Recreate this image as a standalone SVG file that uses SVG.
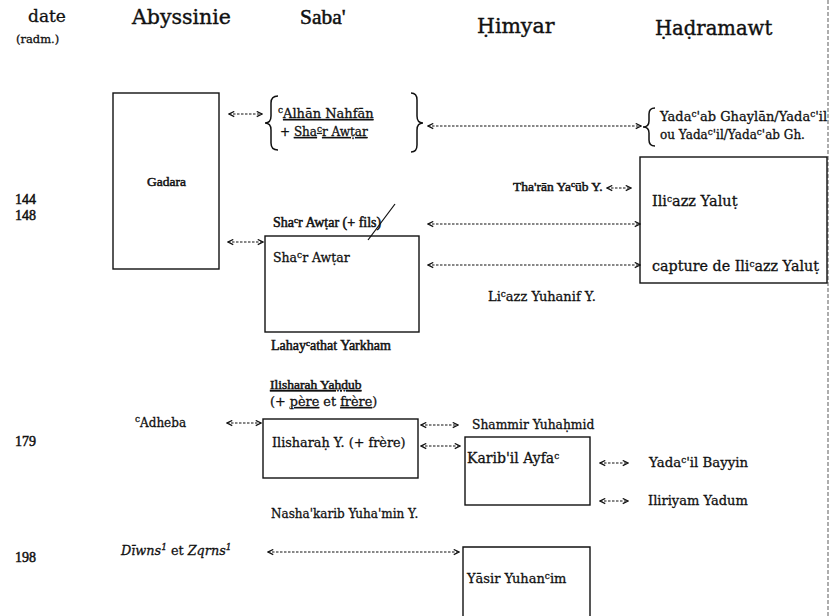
<svg xmlns="http://www.w3.org/2000/svg" width="831" height="616" viewBox="0 0 831 616">
<defs>
<marker id="chev" viewBox="0 0 8 8" refX="7" refY="4" markerWidth="7" markerHeight="7" markerUnits="userSpaceOnUse" orient="auto-start-reverse">
<path d="M1,1 L7,4 L1,7" fill="none" stroke="#111" stroke-width="1.3"/>
</marker>
<style>
text{font-family:"DejaVu Serif","Liberation Serif",serif;fill:#111;stroke:#111;stroke-width:0.3;font-size:12.5px}
.hd{font-size:20.5px;stroke-width:0.4}
.tm{font-family:"Liberation Serif","DejaVu Serif",serif;stroke-width:0.5}
.sup{font-size:9px}
.box{fill:none;stroke:#111;stroke-width:1.4}
.brace{fill:none;stroke:#111;stroke-width:1.5}
.con{fill:none;stroke:#111;stroke-width:1.1;stroke-dasharray:2.5 1.5;marker-start:url(#chev);marker-end:url(#chev)}
.ul{text-decoration:underline}
</style>
</defs>
<rect width="831" height="616" fill="#fff"/>
<line x1="828" y1="0" x2="828" y2="616" stroke="#777" stroke-width="1.2" stroke-dasharray="4 2"/>

<g id="headers">
<text x="28" y="22" style="font-size:17px">date</text>
<text x="16" y="43" style="font-size:11.5px">(radm.)</text>
<text x="132" y="24" class="hd">Abyssinie</text>
<text x="300" y="24" class="hd tm" style="font-size:21.5px">Saba'</text>
<text x="477" y="33" class="hd">Ḥimyar</text>
<text x="655" y="35" class="hd" style="font-size:19.6px">Ḥaḍramawt</text>
</g>

<g id="dates">
<text x="15" y="204" class="tm" style="font-size:14px">144</text>
<text x="15" y="220" class="tm" style="font-size:14px">148</text>
<text x="15" y="446" class="tm" style="font-size:14px">179</text>
<text x="15" y="562" class="tm" style="font-size:14px">198</text>
</g>

<g id="gadara">
<rect class="box" x="113" y="93" width="106" height="176"/>
<text x="147" y="186" class="tm" style="font-size:13.5px">Gadara</text>
</g>

<g id="alhan">
<path class="brace" d="M278,96 Q271,96 271,103 L271,116 Q271,123 265,123 Q271,123 271,130 L271,143 Q271,150 278,150"/>
<text x="278" y="118" style="font-size:13px"><tspan class="sup" dy="-5">c</tspan><tspan class="ul" dy="5">Alhān Nahfān</tspan></text>
<text x="280" y="136" style="font-size:12px">+ <tspan class="ul">Sha<tspan class="sup" dy="-4">c</tspan><tspan dy="4">r Awṭar</tspan></tspan></text>
<path class="brace" d="M411,93 Q417,93 417,100 L417,116 Q417,123 423,123 Q417,123 417,130 L417,145 Q417,152 411,152"/>
</g>

<g id="yadaab">
<path class="brace" d="M655,108 Q649,108 649,114 L649,121 Q649,127 643,127 Q649,127 649,133 L649,140 Q649,146 655,146"/>
<text x="660" y="121" style="font-size:13px">Yada<tspan class="sup" dy="-4">c</tspan><tspan dy="4">'ab Ghaylān/Yada</tspan><tspan class="sup" dy="-4">c</tspan><tspan dy="4">'il</tspan></text>
<text x="660" y="139" style="font-size:12px">ou Yada<tspan class="sup" dy="-4">c</tspan><tspan dy="4">'il/Yada</tspan><tspan class="sup" dy="-4">c</tspan><tspan dy="4">'ab Gh.</tspan></text>
</g>

<g id="tharan">
<text x="513" y="191" class="tm" style="font-size:13.5px">Tha'rān Ya<tspan class="sup" dy="-4">c</tspan><tspan dy="4">ūb Y.</tspan></text>
</g>

<g id="ilicazz">
<rect class="box" x="640" y="157" width="187" height="126"/>
<text x="652" y="206" style="font-size:14.5px">Ili<tspan class="sup" dy="-4">c</tspan><tspan dy="4">azz Yaluṭ</tspan></text>
<text x="652" y="271" style="font-size:14.3px">capture de Ili<tspan class="sup" dy="-4">c</tspan><tspan dy="4">azz Yaluṭ</tspan></text>
</g>

<g id="shaar-fils">
<text x="273" y="227" class="tm" style="font-size:14px">Sha<tspan class="sup" dy="-4">c</tspan><tspan dy="4">r Awṭar (+ fils)</tspan></text>
<line x1="368" y1="240" x2="395" y2="204" stroke="#111" stroke-width="1.2"/>
</g>

<g id="shaar">
<rect class="box" x="265" y="236" width="154" height="96"/>
<text x="273" y="262" style="font-size:12.5px">Sha<tspan class="sup" dy="-4">c</tspan><tspan dy="4">r Awṭar</tspan></text>
</g>

<g id="licazz">
<text x="488" y="301" style="font-size:13px">Li<tspan class="sup" dy="-4">c</tspan><tspan dy="4">azz Yuhanif Y.</tspan></text>
</g>

<g id="lahay">
<text x="271" y="350" class="tm" style="font-size:14px">Lahay<tspan class="sup" dy="-4">c</tspan><tspan dy="4">athat Yarkham</tspan></text>
</g>

<g id="ilisharah-yahdub">
<text x="270" y="389" class="ul tm" style="font-size:13.5px">Ilisharah Yaḥḍub</text>
<text x="270" y="406" style="font-size:12.8px">(+ <tspan class="ul">père</tspan> et <tspan class="ul">frère</tspan>)</text>
</g>

<g id="adheba">
<text x="135" y="427" style="font-size:12px"><tspan class="sup" dy="-5">c</tspan><tspan dy="5">Adheba</tspan></text>
</g>

<g id="ilisharah">
<rect class="box" x="263" y="419" width="155" height="59"/>
<text x="272" y="447" style="font-size:12.8px">Ilisharaḥ Y. (+ frère)</text>
</g>

<g id="shammir">
<text x="472" y="429" style="font-size:12.3px">Shammir Yuhaḥmid</text>
</g>

<g id="karibil">
<rect class="box" x="465" y="437" width="125" height="68"/>
<text x="467" y="463" style="font-size:14px">Karib'il Ayfa<tspan class="sup" dy="-4">c</tspan></text>
</g>

<g id="bayyin">
<text x="649" y="467" style="font-size:13.3px">Yada<tspan class="sup" dy="-4">c</tspan><tspan dy="4">'il Bayyin</tspan></text>
</g>

<g id="iliriyam">
<text x="648" y="505" style="font-size:13px">Iliriyam Yadum</text>
</g>

<g id="nashakarib">
<text x="271" y="518" style="font-size:12px">Nasha'karib Yuha'min Y.</text>
</g>

<g id="diwns">
<text x="121" y="555" style="font-style:italic;font-size:12.8px">Dīwns<tspan class="sup" dy="-5">1</tspan><tspan dy="5" style="font-style:normal"> et </tspan>Zqrns<tspan class="sup" dy="-5">1</tspan></text>
</g>

<g id="yasir">
<path class="box" d="M463,618 L463,547 L590,547 L590,618"/>
<text x="467" y="583" style="font-size:13px">Yāsir Yuhan<tspan class="sup" dy="-4">c</tspan><tspan dy="4">im</tspan></text>
</g>

<g id="connectors">
<line class="con" x1="229" y1="114" x2="262" y2="114"/>
<line class="con" x1="428" y1="126" x2="641" y2="126"/>
<line class="con" x1="607" y1="188" x2="631" y2="188"/>
<line class="con" x1="428" y1="224" x2="640" y2="224"/>
<line class="con" x1="228" y1="242" x2="263" y2="242"/>
<line class="con" x1="428" y1="265" x2="640" y2="265"/>
<line class="con" x1="227" y1="423" x2="261" y2="423"/>
<line class="con" x1="421" y1="425" x2="458" y2="425"/>
<line class="con" x1="421" y1="446" x2="460" y2="446"/>
<line class="con" x1="600" y1="463" x2="628" y2="463"/>
<line class="con" x1="600" y1="501" x2="628" y2="501"/>
<line class="con" x1="268" y1="552" x2="459" y2="552"/>
</g>
</svg>
